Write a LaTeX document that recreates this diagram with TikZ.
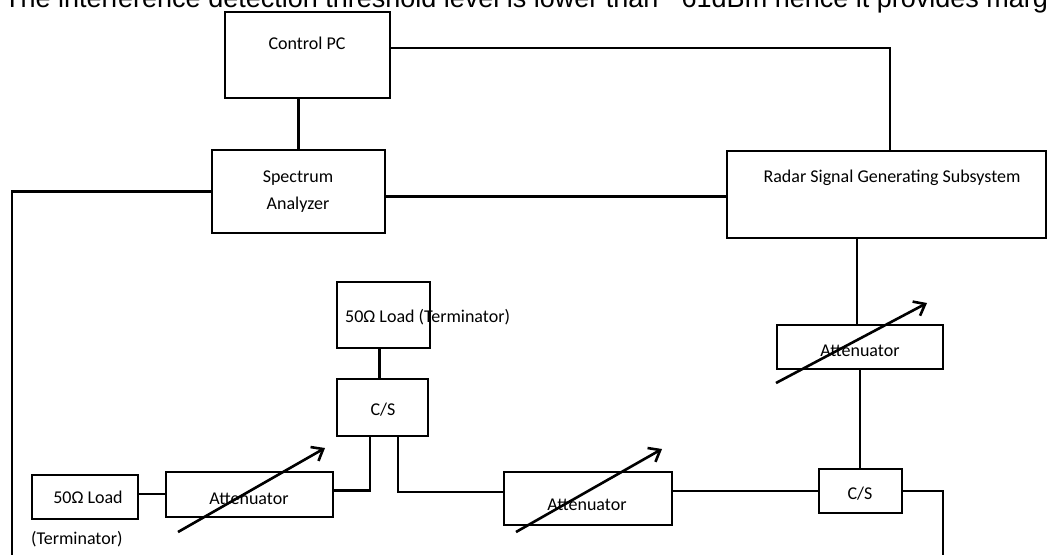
\documentclass[tikz,border=0pt]{standalone}
\usepackage{fontspec}
\setmainfont{Carlito}
\newfontfamily\topfont{Liberation Sans}
\usetikzlibrary{arrows.meta}
\tikzset{
  box/.style={draw, line width=2.8pt, inner sep=0pt},
  wire/.style={line width=2.8pt},
  lbl/.style={font=\fontsize{18}{27}\selectfont, inner sep=0pt, align=center},
  varrow/.style={line width=2.6pt, -{Straight Barb[length=10pt,width=16pt,line width=2.6pt]}}
}
\begin{document}
\begin{tikzpicture}[x=1pt,y=-1pt]
\useasboundingbox (0,0) rectangle (1049,554);
% top cut text
\node[anchor=base west, inner sep=0pt, font=\topfont\fontsize{27}{30}\selectfont] (toptext) at (4,8) {The interference detection threshold level is lower than −61dBm hence it provides margin};
% boxes
\node[box, minimum width=165pt, minimum height=86pt] (pc) at (307.5,55) {};
\node[lbl] (pct) at (307,43) {Control PC};
\node[box, minimum width=173pt, minimum height=83pt] (sa) at (298.5,191.5) {};
\node[lbl] (sat) at (298,191.5) {Spectrum\\Analyzer};
\node[box, minimum width=319pt, minimum height=87pt] (radar) at (886.5,194.5) {};
\node[lbl] (radt) at (892,178) {Radar Signal Generating Subsystem};
\node[box, minimum width=166pt, minimum height=44pt] (att3) at (860,347) {};
\node[lbl] (att3t) at (860,351) {Attenuator};
\node[box, minimum width=83pt, minimum height=44pt] (cs2) at (860.5,491) {};
\node[lbl] (cs2t) at (860,494) {C/S};
\node[box, minimum width=168pt, minimum height=53pt] (att2) at (588,498.5) {};
\node[lbl] (att2t) at (587,505) {Attenuator};
\node[box, minimum width=91pt, minimum height=57pt] (cs1) at (382.5,407.5) {};
\node[lbl] (cs1t) at (383,410) {C/S};
\node[box, minimum width=93pt, minimum height=66pt] (load2) at (383.5,315) {};
\node[lbl, anchor=west] (load2t) at (345,317) {50Ω Load (Terminator)};
\node[box, minimum width=167pt, minimum height=45pt] (att1) at (249.5,494.5) {};
\node[lbl] (att1t) at (249,499) {Attenuator};
\node[box, minimum width=106pt, minimum height=44pt] (load1) at (85,497) {};
\node[lbl] (load1t) at (88,497) {50Ω Load};
\node[lbl, anchor=west] (termt) at (31,539) {(Terminator)};
% free ends
\coordinate (bl) at (12,558);
\coordinate (br) at (943,558);
\coordinate (pcx) at (890,48);
% connectors
\draw[wire] ([yshift=7pt]pc.east) -| (radar.north -| pcx);
\draw[wire] (sa.north) -- (sa.north |- pc.south);
\draw[wire] ([yshift=-5pt]sa.east) -- ([yshift=-5pt]sa.east -| radar.west);
\draw[wire] (sa.west) -| (bl);
\draw[wire] ([xshift=-3pt]att3.north |- radar.south) -- ([xshift=-3pt]att3.north);
\draw[wire] (att3.south) -- (att3.south |- cs2.north);
\draw[wire] (cs2.west) -- (cs2.west -| att2.east);
\draw[wire] (cs2.east) -| (br);
\draw[wire] ([xshift=15.5pt]cs1.south) |- ([yshift=6.5pt]att2.west);
\draw[wire] ([xshift=-12.5pt]cs1.south) |- ([yshift=4pt]att1.east);
\draw[wire] ([xshift=-4pt]load2.south) -- ([xshift=-4pt]load2.south |- cs1.north);
\draw[wire] ([yshift=3pt]load1.east) -- ([yshift=3pt]load1.east -| att1.west);
% variable attenuator arrows
\coordinate (a1s) at (178,532); \coordinate (a1e) at (325,448);
\coordinate (a2s) at (516,532); \coordinate (a2e) at (662,449);
\coordinate (a3s) at (776,383); \coordinate (a3e) at (927,303);
\draw[varrow] (a1s) -- (a1e);
\draw[varrow] (a2s) -- (a2e);
\draw[varrow] (a3s) -- (a3e);
\end{tikzpicture}
\end{document}
